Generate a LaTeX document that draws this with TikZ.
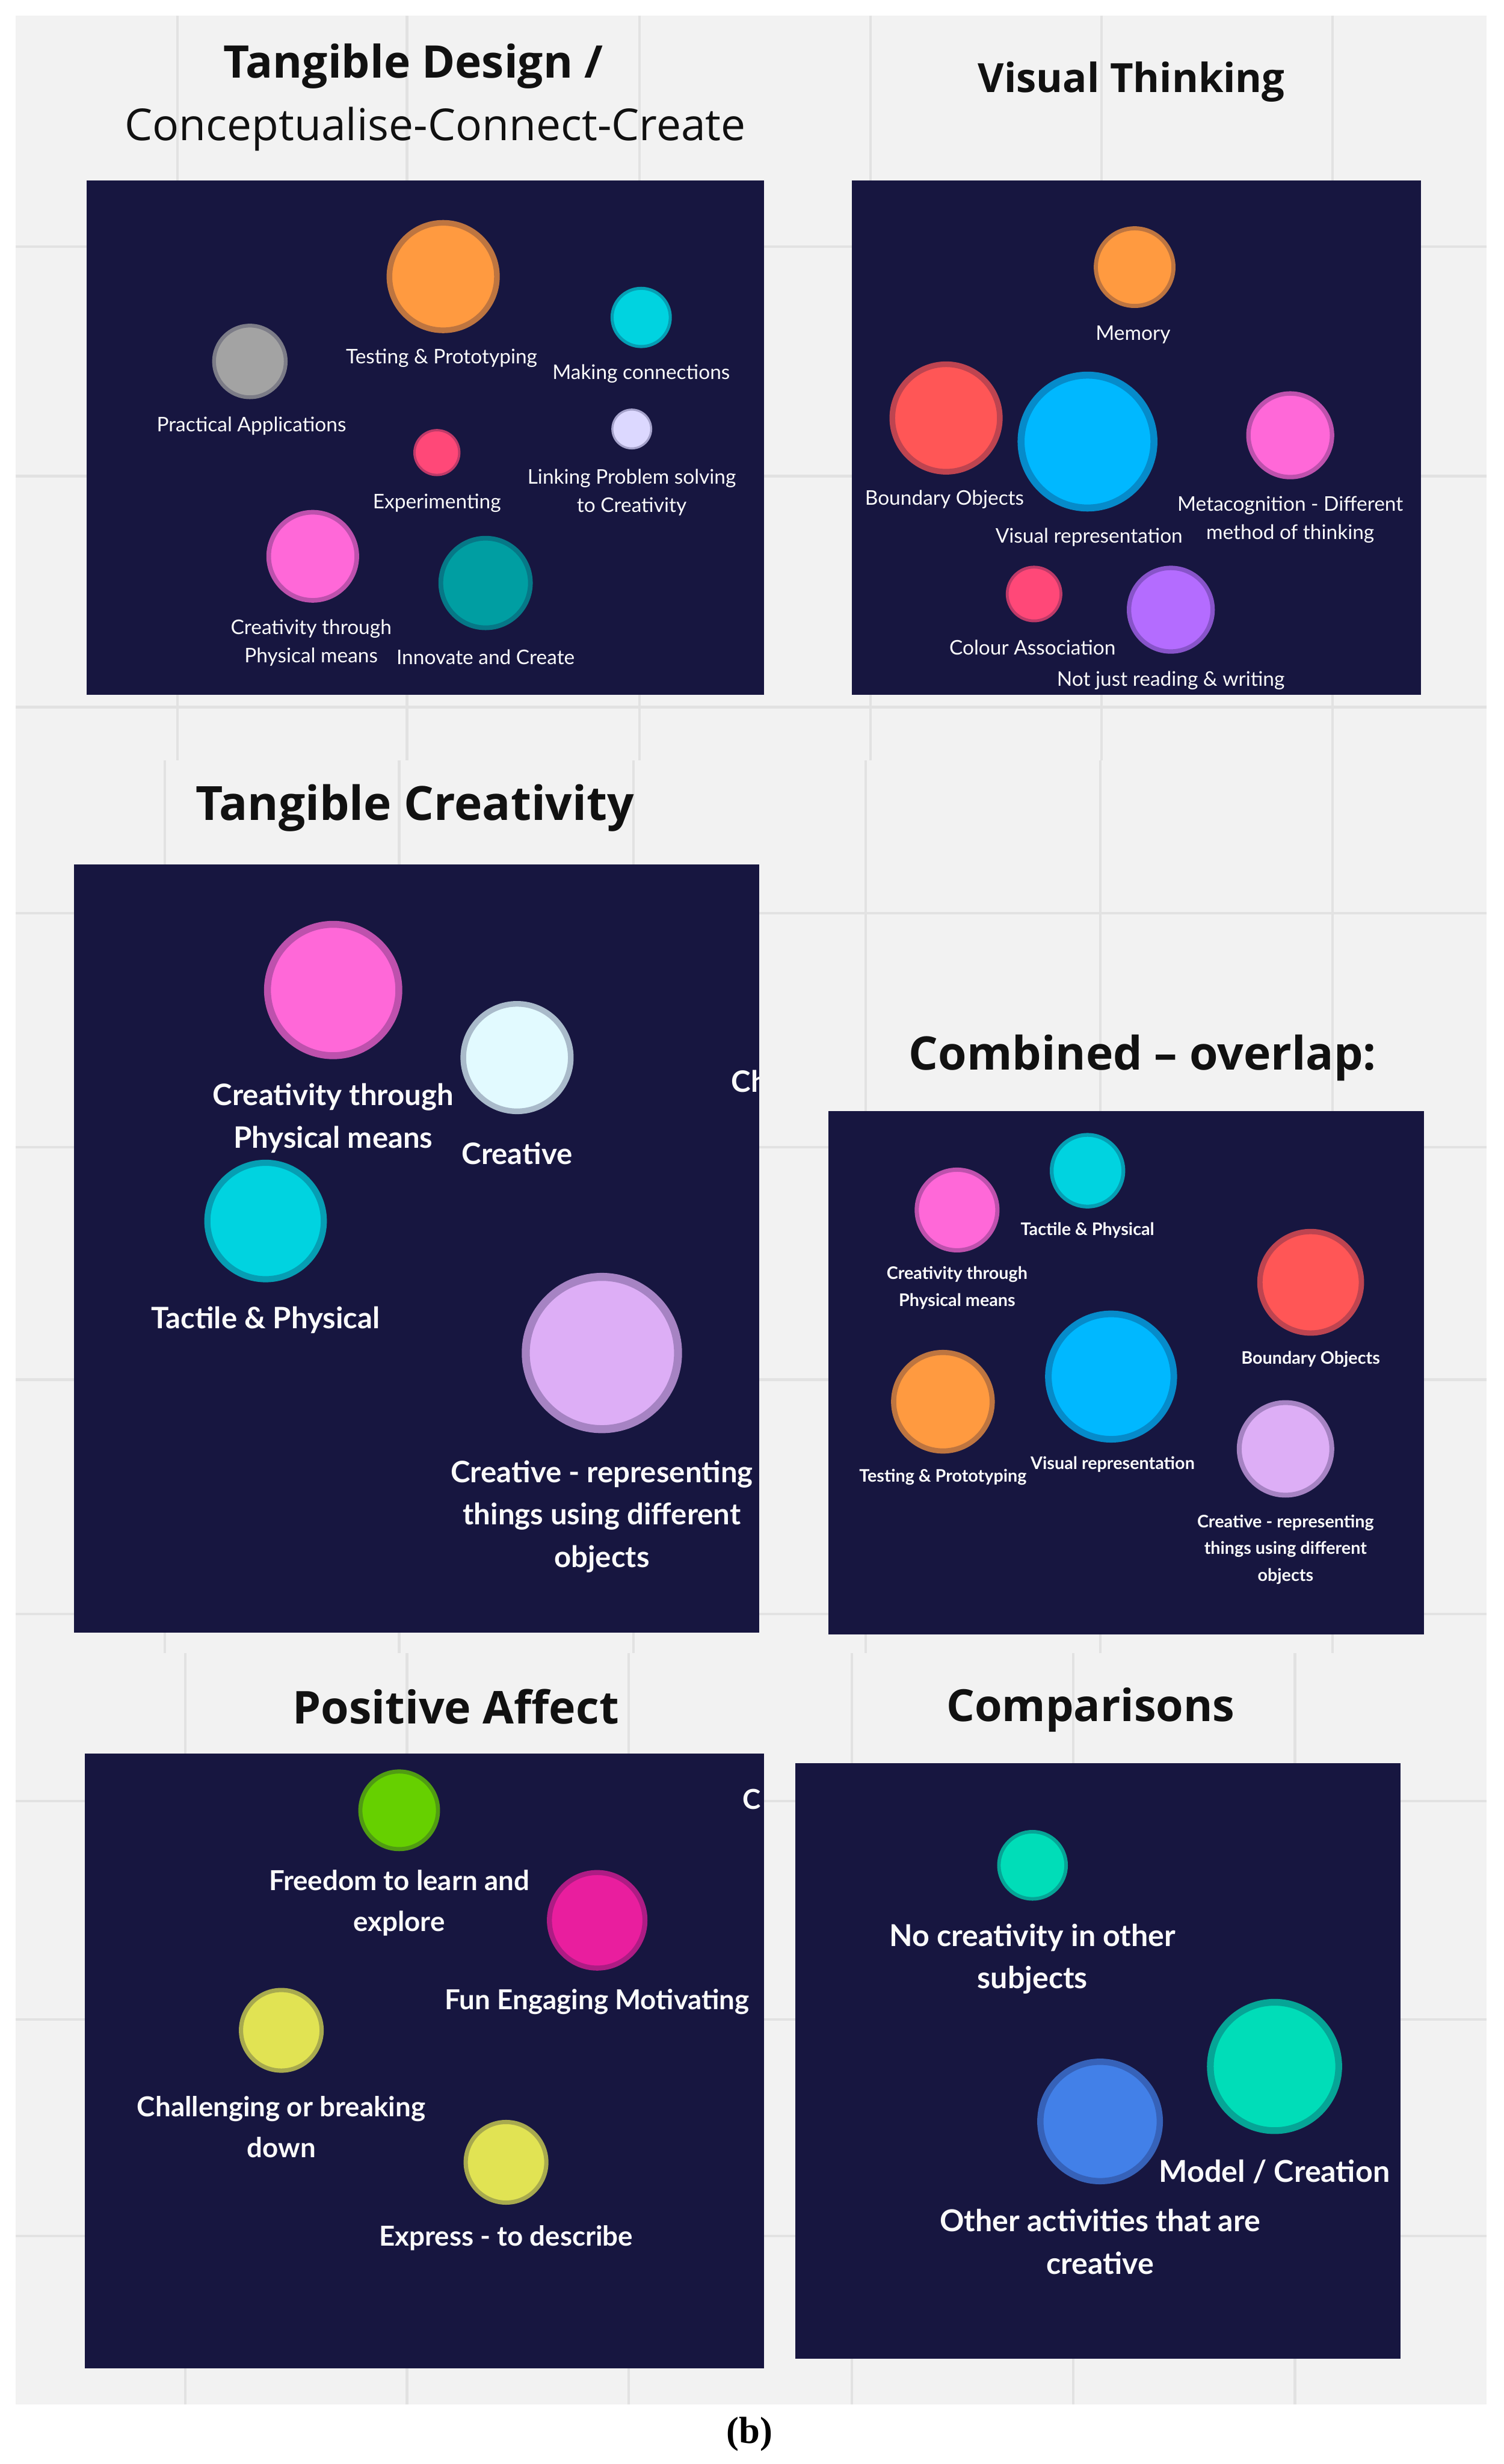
\documentclass[tikz,border=0pt]{standalone}
\usepackage{fontspec}
\setmainfont{Lato}
\newfontfamily\headfont{Open Sans}
\newfontfamily\capfont{Liberation Serif}

\definecolor{board}{HTML}{F2F2F2}
\definecolor{gridGray}{HTML}{E2E2E2}
\definecolor{navy}{HTML}{171640}
\definecolor{inkBlack}{HTML}{111111}
\definecolor{cOrange}{HTML}{FF9A40}
\definecolor{cCyan}{HTML}{00D3E0}
\definecolor{cGray}{HTML}{A3A3A3}
\definecolor{cRose}{HTML}{FF4878}
\definecolor{cPale}{HTML}{DCD8FF}
\definecolor{cPink}{HTML}{FF68D8}
\definecolor{cTeal}{HTML}{009EA2}
\definecolor{cRed}{HTML}{FF5656}
\definecolor{cSky}{HTML}{00B8FF}
\definecolor{cPurple}{HTML}{B46CFF}
\definecolor{cWhite}{HTML}{E2FAFF}
\definecolor{cLilac}{HTML}{DDAEF6}
\definecolor{cGreen}{HTML}{66D000}
\definecolor{cMagenta}{HTML}{E91E9E}
\definecolor{cYellow}{HTML}{E1E353}
\definecolor{cMint}{HTML}{00DDB8}
\definecolor{cBlue}{HTML}{4280E8}

\tikzset{
  gridline/.style={gridGray, line width=0.8pt},
  panel/.style={fill=navy},
  bubble/.style 2 args={circle, inner sep=0pt, fill=#1, draw=#1!72!navy,
    line width=0.05*#2pt, minimum size=0.95*#2pt},
  tag/.style={text=white!96!gray, align=center, inner sep=0pt},
  tagS/.style={tag, font=\fontsize{6.4}{9}\selectfont},
  tagXS/.style={tag, font=\bfseries\fontsize{5.5}{8.5}\selectfont},
  tagM/.style={tag, font=\bfseries\fontsize{9.4}{13.5}\selectfont},
  tagMA/.style={tag, font=\bfseries\fontsize{8.75}{13}\selectfont},
  tagL/.style={tag, font=\bfseries\fontsize{9.6}{13.5}\selectfont},
  heading/.style={text=inkBlack, inner sep=0pt, font=\headfont\bfseries\fontsize{#1}{18}\selectfont},
  heading/.default=15,
  subheading/.style={text=inkBlack, inner sep=0pt, font=\headfont\fontsize{14}{17}\selectfont},
}

\begin{document}
\begin{tikzpicture}[x=0.5pt, y=-0.5pt]

  \useasboundingbox (0,0) rectangle (957,1568);
  \fill[white] (0,0) rectangle (957,1568);
  \fill[board] (10,10) rectangle (946,1530);

  % board grid, three strips
  \foreach \x in {113,259,407,554,701,848}
    \draw[gridline] (\x,10) -- (\x,484);
  \foreach \y in {157,303,450}
    \draw[gridline] (10,\y) -- (946,\y);
  \foreach \x in {105,254,403,551,700,848}
    \draw[gridline] (\x,484) -- (\x,1052);
  \foreach \y in {581,730,878,1027}
    \draw[gridline] (10,\y) -- (946,\y);
  \foreach \x in {118,259,400,542,683,824}
    \draw[gridline] (\x,1052) -- (\x,1530);
  \foreach \y in {1146,1285,1423}
    \draw[gridline] (10,\y) -- (946,\y);

  % dark panels
  \fill[panel] (55,115) rectangle (486,442);
  \fill[panel] (542,115) rectangle (904,442);
  \fill[panel] (47,550) rectangle (483,1039);
  \fill[panel] (527,707) rectangle (906,1040);
  \fill[panel] (54,1116) rectangle (486,1507);
  \fill[panel] (506,1122) rectangle (891,1501);

  % headings
  \node[heading=14.3] (hDesign) at (263,42) {Tangible Design /};
  \node[subheading] (hDesignSub) at (277,82) {Conceptualise-Connect-Create};
  \node[heading=12.8] (hVisual) at (720,52) {Visual Thinking};
  \node[heading] (hTangible) at (264,514) {Tangible Creativity};
  \node[heading=14.7] (hCombined) at (727,673) {Combined – overlap:};
  \node[heading=14.4] (hPositive) at (290,1086) {Positive Affect};
  \node[heading=14.1] (hCompare) at (694,1088) {Comparisons};

  % Tangible Design
  \node[bubble={cOrange}{36}] (tdTest) at (282,176) {};
  \node[tagS] (tdTestL) at (281,228) {Testing \& Prototyping};
  \node[bubble={cCyan}{19.5}] (tdConn) at (408,202) {};
  \node[tagS] (tdConnL) at (408,238) {Making connections};
  \node[bubble={cGray}{24}] (tdPract) at (159,230) {};
  \node[tagS] (tdPractL) at (160,271) {Practical Applications};
  \node[bubble={cRose}{15}] (tdExp) at (278,288) {};
  \node[tagS] (tdExpL) at (278,320) {Experimenting};
  \node[bubble={cPale}{13}] (tdLink) at (402,273) {};
  \node[tagS] (tdLinkL) at (402,313.5) {Linking Problem solving\\to Creativity};
  \node[bubble={cPink}{29.5}] (tdPhys) at (199,354) {};
  \node[tagS] (tdPhysL) at (198,409) {Creativity through\\Physical means};
  \node[bubble={cTeal}{30}] (tdInnov) at (309,371) {};
  \node[tagS] (tdInnovL) at (309,418) {Innovate and Create};

  % Visual Thinking
  \node[bubble={cOrange}{26}] (vtMem) at (722,170) {};
  \node[tagS] (vtMemL) at (721,213) {Memory};
  \node[bubble={cRed}{36}] (vtBound) at (602,266) {};
  \node[tagS] (vtBoundL) at (601,318) {Boundary Objects};
  \node[bubble={cSky}{44.5}] (vtVis) at (692,281) {};
  \node[tagS] (vtVisL) at (693,342) {Visual representation};
  \node[bubble={cPink}{28}] (vtMeta) at (821,277) {};
  \node[tagS] (vtMetaL) at (821,330.5) {Metacognition - Different\\method of thinking};
  \node[bubble={cRose}{18}] (vtColour) at (658,378) {};
  \node[tagS] (vtColourL) at (657,412) {Colour Association};
  \node[bubble={cPurple}{28}] (vtRead) at (745,388) {};
  \node[tagS] (vtReadL) at (745,433) {Not just reading \& writing};

  % Tangible Creativity
  \node[bubble={cPink}{44}] (tcPhys) at (212,630) {};
  \node[tagM] (tcPhysL) at (212,711.5) {Creativity through\\Physical means};
  \node[bubble={cWhite}{36}] (tcCreat) at (329,673) {};
  \node[tagM] (tcCreatL) at (329,734) {Creative};
  \node[bubble={cCyan}{39}] (tcTact) at (169,777) {};
  \node[tagM] (tcTactL) at (169,840) {Tactile \& Physical};
  \node[bubble={cLilac}{51}] (tcRepr) at (383,861) {};
  \node[tagM] (tcReprL) at (383,965) {Creative - representing\\things using different\\objects};
  \begin{scope}
    \clip (47,550) rectangle (483,1039);
    \node[tagM, anchor=west] (tcCut) at (465,688) {Ch};
  \end{scope}

  % Combined - overlap
  \node[bubble={cPink}{27}] (coPhys) at (609,770) {};
  \node[tagXS] (coPhysL) at (609,819.5) {Creativity through\\Physical means};
  \node[bubble={cCyan}{24}] (coTact) at (692,745) {};
  \node[tagXS] (coTactL) at (692,783) {Tactile \& Physical};
  \node[bubble={cRed}{34}] (coBound) at (834,816) {};
  \node[tagXS] (coBoundL) at (834,865) {Boundary Objects};
  \node[bubble={cOrange}{33}] (coTest) at (600,892) {};
  \node[tagXS] (coTestL) at (600,940) {Testing \& Prototyping};
  \node[bubble={cSky}{42}] (coVis) at (707,876) {};
  \node[tagXS] (coVisL) at (708,932) {Visual representation};
  \node[bubble={cLilac}{31}] (coRepr) at (818,922) {};
  \node[tagXS] (coReprL) at (818,986) {Creative - representing\\things using different\\objects};

  % Positive Affect
  \node[bubble={cGreen}{26}] (paFree) at (254,1152) {};
  \node[tagMA] (paFreeL) at (254,1211) {Freedom to learn and\\explore};
  \node[bubble={cMagenta}{32}] (paFun) at (380,1222) {};
  \node[tagMA] (paFunL) at (380,1274) {Fun Engaging Motivating};
  \node[bubble={cYellow}{27}] (paChall) at (179,1292) {};
  \node[tagMA] (paChallL) at (179,1353.5) {Challenging or breaking\\down};
  \node[bubble={cYellow}{27}] (paExpr) at (322,1376) {};
  \node[tagMA] (paExprL) at (322,1424) {Express - to describe};
  \begin{scope}
    \clip (54,1116) rectangle (486,1507);
    \node[tagMA, anchor=west] (paCut) at (472,1145) {C};
  \end{scope}

  % Comparisons
  \node[bubble={cMint}{22.5}] (cmNo) at (657,1187) {};
  \node[tagL] (cmNoL) at (657,1246.5) {No creativity in other\\subjects};
  \node[bubble={cMint}{43}] (cmModel) at (811,1315) {};
  \node[tagL] (cmModelL) at (811,1382) {Model / Creation};
  \node[bubble={cBlue}{40}] (cmOther) at (700,1350) {};
  \node[tagL] (cmOtherL) at (700,1426.5) {Other activities that are\\creative};

  \node[inner sep=0pt, font=\capfont\bfseries\fontsize{12}{14}\selectfont] (caption) at (477,1549) {(b)};

\end{tikzpicture}
\end{document}
